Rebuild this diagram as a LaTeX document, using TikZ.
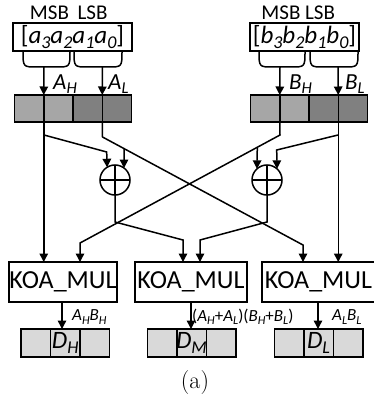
\documentclass[tikz,border=0pt]{standalone}
\usepackage{fontspec}
\usepackage{graphicx}
\setmainfont{Carlito}
\newfontfamily\capfont{Latin Modern Roman}
\usetikzlibrary{arrows.meta}

% italic letter with italic subscript
\newcommand\ix[2]{\textit{#1}\raisebox{-0.2em}{\scalebox{0.72}{\textit{#2}}}}
\newcommand\fsz[1]{\fontsize{#1}{#1}\selectfont}

\tikzset{
  wire/.style={line width=1.5pt},
  arr/.style={wire, -{Triangle[width=8.5pt,length=8.5pt]}},
  wordbox/.style={draw, line width=1.5pt, inner sep=0pt, outer sep=0pt},
  hicell/.style={draw, line width=1.5pt, fill=black!35, minimum width=29.25pt, minimum height=27pt, inner sep=0pt, outer sep=0pt},
  locell/.style={hicell, fill=black!50},
  rescell/.style={draw, line width=1.5pt, fill=black!15, minimum width=29.5pt, minimum height=28pt, inner sep=0pt, outer sep=0pt},
  xorgate/.style={draw, circle, line width=1.5pt, minimum size=30pt, inner sep=0pt, outer sep=0pt},
  mulbox/.style={draw, line width=1.5pt, minimum height=40pt, inner sep=0pt, outer sep=0pt, font=\fsz{26}},
  bitlabel/.style={font=\fsz{21}, inner sep=0pt},
  partlabel/.style={font=\fsz{23}, inner sep=0pt, anchor=west},
  prodlabel/.style={font=\fsz{17}, inner sep=0pt, anchor=west},
  brace/.style={wire}
}

\begin{document}
\begin{tikzpicture}[x=1pt, y=-1pt]
\useasboundingbox (0,0) rectangle (373,401);

% ---- operand words ----
\node[bitlabel] (msbA) at (49.5,13) {MSB};
\node[bitlabel] (lsbA) at (92.5,13) {LSB};
\node[bitlabel] (msbB) at (281,13) {MSB};
\node[bitlabel] (lsbB) at (320,13) {LSB};

\node[wordbox, minimum width=119pt, minimum height=28pt, font=\fsz{25}] (wA) at (72.5,37)
  {[\ix{a}{3}\ix{a}{2}\ix{a}{1}\ix{a}{0}]};
\node[wordbox, minimum width=109pt, minimum height=28pt, font=\fsz{25}] (wB) at (304.5,37)
  {[\ix{b}{3}\ix{b}{2}\ix{b}{1}\ix{b}{0}]};

% ---- braces splitting each word into halves ----
\coordinate (bAH) at (44,67);
\coordinate (bAL) at (102.5,67);
\coordinate (bBH) at (280,67);
\coordinate (bBL) at (338,67);
\draw[brace] (23,51) .. controls (23,67) .. (37,67) -- (56,67) .. controls (70,67) .. (70,51);
\draw[brace] (74,51) .. controls (74,67) .. (88,67) -- (108,67) .. controls (122,67) .. (122,51);
\draw[brace] (259,51) .. controls (259,67) .. (273,67) -- (291,67) .. controls (305,67) .. (305,51);
\draw[brace] (310,51) .. controls (310,67) .. (324,67) -- (344,67) .. controls (358,67) .. (358,51);

% ---- registers holding the halves ----
\node[hicell] (ra1) at (29.125,108.5) {};
\node[hicell] (ra2) at (58.375,108.5) {};
\node[locell] (ra3) at (87.625,108.5) {};
\node[locell] (ra4) at (116.875,108.5) {};
\node[hicell] (rb1) at (265.125,108.5) {};
\node[hicell] (rb2) at (294.375,108.5) {};
\node[locell] (rb3) at (323.625,108.5) {};
\node[locell] (rb4) at (352.875,108.5) {};

\draw[arr] (bAH) -- (ra1.north east);
\draw[arr] (bAL) -- (ra3.north east);
\draw[arr] (bBH) -- (rb1.north east);
\draw[arr] (bBL) -- (rb3.north east);

\node[partlabel] (lAH) at (53,84) {\ix{A}{H}};
\node[partlabel] (lAL) at (108,84) {\ix{A}{L}};
\node[partlabel] (lBH) at (289,84) {\ix{B}{H}};
\node[partlabel] (lBL) at (345,84) {\ix{B}{L}};

% ---- adders ----
\node[xorgate] (x1) at (115,180) {};
\node[xorgate] (x2) at (267,180) {};
\draw[wire] (x1.north) -- (x1.south) (x1.west) -- (x1.east);
\draw[wire] (x2.north) -- (x2.south) (x2.west) -- (x2.east);

% ---- multipliers ----
\node[mulbox, minimum width=108pt] (m1) at (63,282) {KOA\_MUL};
\node[mulbox, minimum width=112pt] (m2) at (191,282) {KOA\_MUL};
\node[mulbox, minimum width=113pt] (m3) at (318.5,282) {KOA\_MUL};

% ---- routing ----
\coordinate (tAH) at (44,135);
\coordinate (tAL) at (102.5,137);
\coordinate (tBH) at (280,135);
\coordinate (tBL) at (338,135);
\coordinate (kAL) at (303,245);
\coordinate (kBH) at (80,243);
\coordinate (sAH) at (106.7,152);
\coordinate (sAL) at (124,148.4);
\coordinate (sBH) at (257.3,147.4);
\coordinate (sBL) at (276.7,150);
\coordinate (o1) at (115,222);
\coordinate (o2) at (267,222);
\coordinate (k1) at (183,240);
\coordinate (k2) at (200,240);

% A_H : straight down to the first multiplier, tapped for the left adder
\draw[wire] (ra1.north east) -- (ra1.south east);
\draw[arr] (ra1.south east) -- (m1.north -| ra1.south east);
\draw[arr] (tAH) -- (sAH) -- (x1.122);
% A_L : across to the third multiplier, tapped for the left adder
\draw[wire] (ra3.north east) -- (ra3.south east);
\draw[arr] (ra3.south east) -- (tAL) -- (kAL) -- (m3.north -| kAL);
\draw[arr] (sAL) -- (x1.53);
% B_H : across to the first multiplier, tapped for the right adder
\draw[wire] (rb1.north east) -- (rb1.south east);
\draw[arr] (rb1.south east) -- (tBH) -- (kBH) -- (m1.north -| kBH);
\draw[arr] (sBH) -- (x2.132);
% B_L : straight down to the third multiplier, tapped for the right adder
\draw[wire] (rb3.north east) -- (rb3.south east);
\draw[arr] (rb3.south east) -- (m3.north -| rb3.south east);
\draw[arr] (tBL) -- (sBL) -- (x2.48);
% adder sums into the middle multiplier
\draw[arr] (x1.south) -- (o1) -- (k1) -- (m2.north -| k1);
\draw[arr] (x2.south) -- (o2) -- (k2) -- (m2.north -| k2);

% ---- partial products ----
\node[rescell] (d11) at (35.75,343) {};
\node[rescell] (d12) at (65.25,343) {};
\node[rescell] (d13) at (94.75,343) {};
\node[rescell] (d21) at (162,343) {};
\node[rescell] (d22) at (191.5,343) {};
\node[rescell] (d23) at (221,343) {};
\node[rescell] (d31) at (289,343) {};
\node[rescell] (d32) at (318.5,343) {};
\node[rescell] (d33) at (348,343) {};

\node[font=\fsz{25}, inner sep=0pt] (dH) at (d12) {\ix{D}{H}};
\node[font=\fsz{25}, inner sep=0pt] (dM) at (d22) {\ix{D}{M}};
\node[font=\fsz{25}, inner sep=0pt] (dL) at (d32) {\ix{D}{L}};

\coordinate (p1) at (62,302);
\coordinate (p2) at (191,302);
\coordinate (p3) at (318,302);
\draw[arr] (p1) -- (d12.north -| p1);
\draw[arr] (p2) -- (d22.north -| p2);
\draw[arr] (p3) -- (d32.north -| p3);

\node[prodlabel] (qH) at (72,317) {\ix{A}{H}\ix{B}{H}};
\node[prodlabel] (qM) at (192,317) {(\ix{A}{H}+\ix{A}{L})(\ix{B}{H}+\ix{B}{L})};
\node[prodlabel] (qL) at (332,317) {\ix{A}{L}\ix{B}{L}};

\node[font=\capfont\fsz{24}, inner sep=0pt] (cap) at (195,383) {(a)};
\end{tikzpicture}
\end{document}
